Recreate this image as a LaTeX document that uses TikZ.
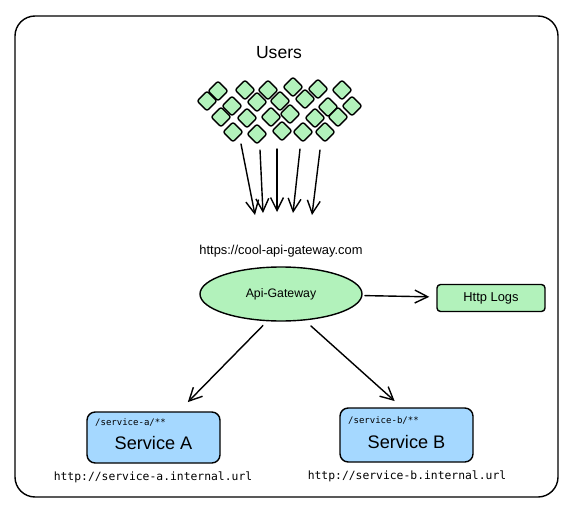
\documentclass[tikz,border=0pt]{standalone}
\usepackage{fontspec}
\setmainfont{Liberation Sans}
\newfontfamily\codefont{DejaVu Sans Mono}
\usetikzlibrary{arrows.meta,shapes.geometric}
\definecolor{usergreen}{HTML}{B2F2BB}
\definecolor{svcblue}{HTML}{A5D8FF}
\tikzset{
	user/.style={draw,line width=1.2pt,fill=usergreen,rectangle,rotate=45,minimum size=12pt,inner sep=0pt,rounded corners=2pt},
	flow/.style={line width=1.2pt,-{Straight Barb[length=11pt,width=11pt,line width=1.2pt]}},
	svcbox/.style={draw,line width=1.2pt,fill=svcblue,rounded corners=7pt,minimum width=3.99cm,font=\fontsize{15.5}{18}\selectfont,text depth=0pt},
}
\begin{document}
\begin{tikzpicture}[x=0.03cm,y=-0.03cm,line cap=round,line join=round]
	\useasboundingbox (0,0) rectangle (570,513);
	\draw[line width=1.2pt,rounded corners=0.6cm] (15,16) rectangle (558,497);
	\node[font=\fontsize{15}{17}\selectfont] (users) at (279,53) {Users};
	% the crowd
	\node[user] (u01) at (218,91) {};
	\node[user] (u02) at (245,90) {};
	\node[user] (u03) at (268,90) {};
	\node[user] (u04) at (293,87) {};
	\node[user] (u05) at (318,89) {};
	\node[user] (u06) at (342,90) {};
	\node[user] (u07) at (207,101) {};
	\node[user] (u08) at (232,106) {};
	\node[user] (u09) at (257,102) {};
	\node[user] (u10) at (280,101) {};
	\node[user] (u11) at (305,99) {};
	\node[user] (u12) at (328,107) {};
	\node[user] (u13) at (352,106) {};
	\node[user] (u14) at (221,117) {};
	\node[user] (u15) at (247,118) {};
	\node[user] (u16) at (271,117) {};
	\node[user] (u17) at (290,114) {};
	\node[user] (u18) at (315,118) {};
	\node[user] (u19) at (338,117) {};
	\node[user] (u20) at (233,132) {};
	\node[user] (u21) at (257,134) {};
	\node[user] (u22) at (282,131) {};
	\node[user] (u23) at (303,132) {};
	\node[user] (u24) at (325,132) {};
	\coordinate (r1s) at (241,144);
	\coordinate (r2s) at (260,150);
	\coordinate (r3s) at (277,149);
	\coordinate (r4s) at (300,149);
	\coordinate (r5s) at (320,150);
	\coordinate (r1e) at (255,215);
	\coordinate (r2e) at (263,213);
	\coordinate (r3e) at (277,212);
	\coordinate (r4e) at (293,213);
	\coordinate (r5e) at (312,215);
	\draw[flow] (r1s) -- (r1e);
	\draw[flow] (r2s) -- (r2e);
	\draw[flow] (r3s) -- (r3e);
	\draw[flow] (r4s) -- (r4e);
	\draw[flow] (r5s) -- (r5e);
	% gateway
	\node[font=\fontsize{11}{13}\selectfont] (url) at (281,251) {https://cool-api-gateway.com};
	\node[draw,line width=1.2pt,fill=usergreen,ellipse,inner sep=0pt,minimum width=4.86cm,minimum height=1.62cm,font=\fontsize{10.5}{12}\selectfont] (gw) at (281,294) {Api-Gateway};
	\node[draw,line width=1.2pt,fill=usergreen,rounded corners=3pt,minimum width=3.24cm,minimum height=0.81cm,font=\fontsize{11}{13}\selectfont] (logs) at (491,298) {Http Logs};
	\draw[flow,shorten <=2pt,shorten >=6pt] (gw) -- (logs);
	% services
	\node[svcbox,minimum height=1.53cm,text height=21pt] (svca) at (153.5,437.5) {Service A};
	\node[svcbox,minimum height=1.62cm,text height=23pt] (svcb) at (406.5,435) {Service B};
	\node[font=\codefont\fontsize{7.7}{9}\selectfont,anchor=west] (patha) at (91,422) {/service-a/**};
	\node[font=\codefont\fontsize{7.7}{9}\selectfont,anchor=west] (pathb) at (344,420) {/service-b/**};
	\node[font=\codefont\fontsize{9.7}{11}\selectfont] (urla) at (153,477) {http://service-a.internal.url};
	\node[font=\codefont\fontsize{9.7}{11}\selectfont] (urlb) at (407,476) {http://service-b.internal.url};
	\draw[flow,shorten <=5pt,shorten >=11pt] (gw.243) -- (svca.46);
	\draw[flow,shorten <=7pt,shorten >=8pt] (gw.312) -- (svcb.100);
\end{tikzpicture}
\end{document}
